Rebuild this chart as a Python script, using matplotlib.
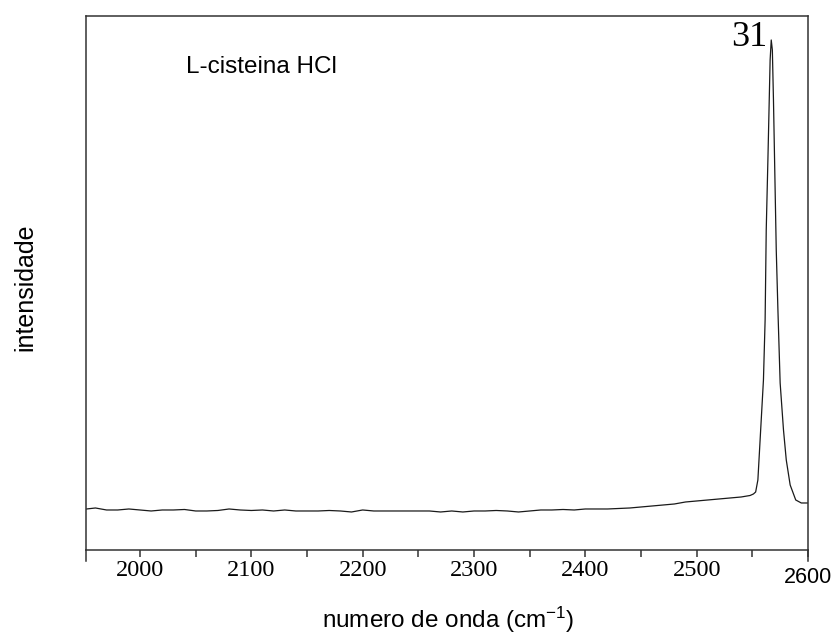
import numpy as np
import matplotlib
matplotlib.use('Agg')
import matplotlib.pyplot as plt
from matplotlib.ticker import MultipleLocator

plt.rcParams['font.family'] = ['Liberation Sans', 'DejaVu Sans']
plt.rcParams['mathtext.default'] = 'regular'

# espectro Raman, L-cisteina HCl (unidades arbitrarias)
numero_onda = [1952, 1960, 1970, 1980, 1990, 2000, 2010, 2020, 2030, 2040,
               2050, 2060, 2070, 2080, 2090, 2100, 2110, 2120, 2130, 2140,
               2150, 2160, 2170, 2180, 2190, 2200, 2210, 2220, 2230, 2240,
               2250, 2260, 2270, 2280, 2290, 2300, 2310, 2320, 2330, 2340,
               2350, 2360, 2370, 2380, 2390, 2400, 2410, 2420, 2430, 2440,
               2450, 2460, 2470, 2480, 2490, 2500, 2510, 2520, 2530, 2540,
               2548, 2551, 2553, 2555, 2557, 2559, 2560, 2561.5, 2562.5, 2564,
               2566, 2567, 2568, 2569, 2570, 2571.5, 2573, 2575, 2578, 2580.5,
               2584, 2589, 2594, 2600]
intensidade = [410, 420, 400, 400, 410, 400, 390, 400, 400, 405,
               390, 390, 395, 410, 400, 395, 400, 390, 400, 390,
               390, 390, 395, 390, 380, 400, 390, 390, 390, 390,
               390, 390, 380, 390, 380, 390, 390, 395, 390, 380,
               390, 400, 400, 405, 400, 410, 410, 410, 415, 420,
               430, 440, 450, 460, 480, 490, 500, 510, 520, 530,
               545, 560, 580, 700, 1100, 1500, 1700, 2300, 3200, 3900,
               4900, 5100, 5000, 4500, 3900, 3000, 2400, 1670, 1200, 900,
               650, 500, 470, 470]

fig = plt.figure(figsize=(8.34, 6.37), dpi=100)
ax = fig.add_axes([0.1031, 0.1366, 0.8657, 0.8383])

ax.plot(numero_onda, intensidade, color='#1a1a1a', lw=0.9)

ax.set_xlim(1951.5, 2600)
ax.set_ylim(0, 5340)
ax.set_yticks([])
ax.xaxis.set_major_locator(MultipleLocator(100))
ax.xaxis.set_minor_locator(MultipleLocator(50))
ax.tick_params(axis='x', which='both', direction='out', length=5, width=1.1,
               color='#333333', pad=2)
ax.set_xticks([2000, 2100, 2200, 2300, 2400, 2500, 2600])
ax.set_xticklabels(['2000', '2100', '2200', '2300', '2400', '2500', ''],
                   family=['Liberation Serif'], fontsize=17.5)
for s in ax.spines.values():
    s.set_color('#333333')
    s.set_linewidth(1.1)

# prolongamento dos eixos abaixo da base
ax.plot([0, 0], [0, -0.02], transform=ax.transAxes, color='#333333',
        lw=1.1, clip_on=False)
ax.plot([1, 1], [0, -0.02], transform=ax.transAxes, color='#333333',
        lw=1.1, clip_on=False)
ax.text(1.0, -0.032, '2600', transform=ax.transAxes, ha='center', va='top',
        fontsize=15.5)

ax.text(0.139, 0.905, 'L-cisteina HCl', transform=ax.transAxes, fontsize=17.5,
        va='center')
ax.text(2563, 4960, '31', family=['Liberation Serif'], fontsize=26,
        ha='right', va='bottom')

fig.text(0.030, 0.549, 'intensidade', rotation=90, fontsize=18,
         ha='center', va='center')
fig.text(0.537, 0.027, 'numero de onda (cm$^{-1}$)', fontsize=17.5,
         ha='center', va='center')

fig.savefig('out.png', dpi=100)
